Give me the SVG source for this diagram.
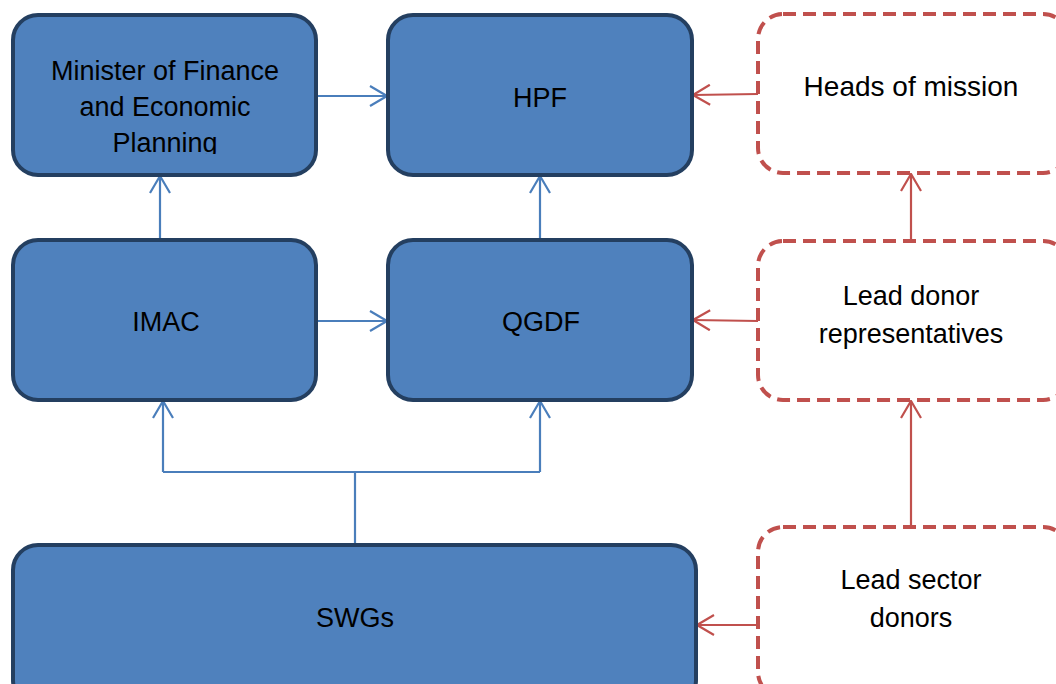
<svg xmlns="http://www.w3.org/2000/svg" width="1056" height="684" viewBox="0 0 1056 684">
<style>
.blue{fill:#4F81BD;stroke:#243F60;stroke-width:4}
.red{fill:#FFFFFF;stroke:#C0504D;stroke-width:4;stroke-dasharray:13 7}
text{font-family:"Liberation Sans",Arial,sans-serif;font-size:27px;fill:#000;text-anchor:middle}
.cb{fill:none;stroke:#4A7EBB;stroke-width:2.2}
.cr{fill:none;stroke:#C0504D;stroke-width:2.2}
</style>
<defs>
<marker id="ab" viewBox="0 0 19 22" refX="18" refY="11" markerWidth="19" markerHeight="22" markerUnits="userSpaceOnUse" orient="auto">
<path d="M1,1 L18,11 L1,21" fill="none" stroke="#4A7EBB" stroke-width="2.2"/>
</marker>
<marker id="ar" viewBox="0 0 19 22" refX="18" refY="11" markerWidth="19" markerHeight="22" markerUnits="userSpaceOnUse" orient="auto">
<path d="M1,1 L18,11 L1,21" fill="none" stroke="#C0504D" stroke-width="2.2"/>
</marker>
<clipPath id="clipMin"><rect x="13" y="15" width="303" height="139"/></clipPath>
</defs>
<g id="connectors">
<line class="cb" x1="316" y1="96" x2="387" y2="96" marker-end="url(#ab)"/>
<line class="cb" x1="160" y1="240" x2="160" y2="176" marker-end="url(#ab)"/>
<line class="cb" x1="540" y1="240" x2="540" y2="176" marker-end="url(#ab)"/>
<line class="cb" x1="316" y1="321" x2="387" y2="321" marker-end="url(#ab)"/>
<line class="cb" x1="355" y1="545" x2="355" y2="472"/>
<polyline class="cb" points="163,472 540,472"/>
<line class="cb" x1="163" y1="472" x2="163" y2="401" marker-end="url(#ab)"/>
<line class="cb" x1="540" y1="472" x2="540" y2="401" marker-end="url(#ab)"/>
<line class="cr" x1="758" y1="94" x2="693" y2="95" marker-end="url(#ar)"/>
<line class="cr" x1="911" y1="240" x2="911" y2="174" marker-end="url(#ar)"/>
<line class="cr" x1="758" y1="321" x2="693" y2="320" marker-end="url(#ar)"/>
<line class="cr" x1="911" y1="527" x2="911" y2="401" marker-end="url(#ar)"/>
<line class="cr" x1="758" y1="625" x2="697" y2="625" marker-end="url(#ar)"/>
</g>
<g id="minister">
<rect class="blue" x="13" y="15" width="303" height="160" rx="25"/>
<g clip-path="url(#clipMin)">
<text x="165" y="80">Minister of Finance</text>
<text x="165" y="116">and Economic</text>
<text x="165" y="152">Planning</text>
</g>
</g>
<g id="hpf">
<rect class="blue" x="388" y="15" width="304" height="160" rx="25"/>
<text x="540" y="107">HPF</text>
</g>
<g id="heads">
<rect class="red" x="758" y="14" width="310" height="159" rx="25"/>
<text x="911" y="96" style="font-size:28px">Heads of mission</text>
</g>
<g id="imac">
<rect class="blue" x="13" y="240" width="303" height="160" rx="25"/>
<text x="166" y="331">IMAC</text>
</g>
<g id="qgdf">
<rect class="blue" x="388" y="240" width="304" height="160" rx="25"/>
<text x="541" y="331">QGDF</text>
</g>
<g id="leaddonor">
<rect class="red" x="758" y="241" width="310" height="159" rx="25"/>
<text x="911" y="305">Lead donor</text>
<text x="911" y="343">representatives</text>
</g>
<g id="swgs">
<rect class="blue" x="13" y="545" width="683" height="160" rx="25"/>
<text x="355" y="627">SWGs</text>
</g>
<g id="leadsector">
<rect class="red" x="758" y="527" width="310" height="170" rx="25"/>
<text x="911" y="589">Lead sector</text>
<text x="911" y="627">donors</text>
</g>
</svg>
